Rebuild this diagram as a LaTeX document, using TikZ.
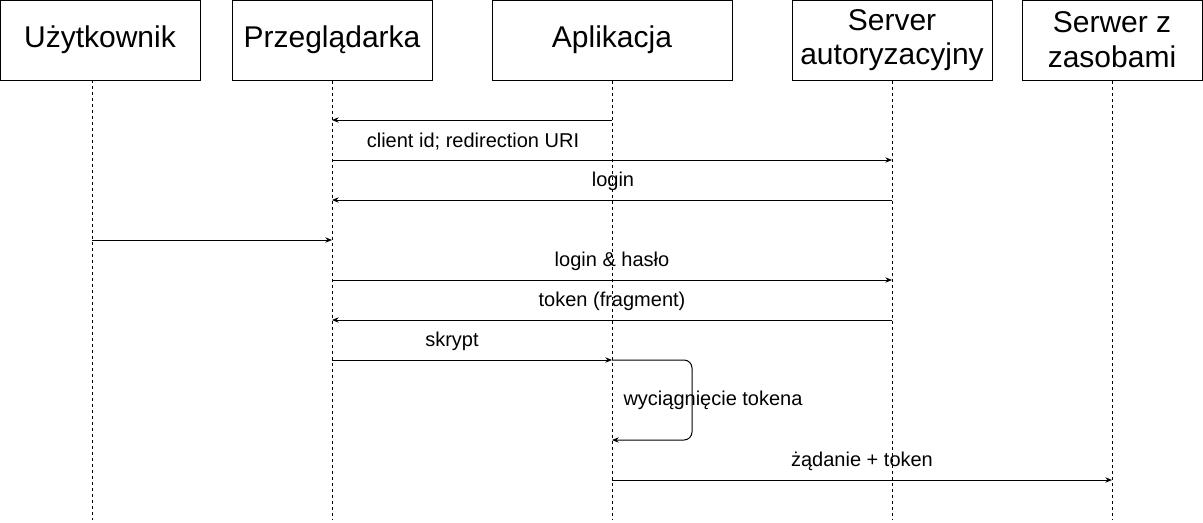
\documentclass[tikz,border=0pt]{standalone}
\usepackage{fontspec}
\setmainfont{Liberation Sans}
\usetikzlibrary{arrows.meta}

\begin{document}
\begin{tikzpicture}[x=0.75pt, y=-0.75pt,
        actor/.style={draw, line width=0.75pt, minimum height=60pt, inner sep=0pt, font=\fontsize{22.5}{26}\selectfont, align=center},
        lifeline/.style={line width=0.6pt, dash pattern=on 2.25pt off 2.25pt},
        msg/.style={line width=0.75pt, -{Stealth[length=5pt, width=4pt]}},
        lbl/.style={font=\fontsize{15}{18}\selectfont, inner sep=0pt}]
        \useasboundingbox (0,0) rectangle (1203,522);

        % Define the participants
        \node[actor, minimum width=150pt] (user) at (100,40) {Użytkownik};
        \node[actor, minimum width=150pt] (browser) at (332,40) {Przeglądarka};
        \node[actor, minimum width=180pt] (app) at (612,40) {Aplikacja};
        \node[actor, minimum width=150pt] (auth) at (892,40) {Server\\autoryzacyjny};
        \node[actor, minimum width=135pt] (res) at (1112,40) {Serwer z\\zasobami};

        % Define the lifelines
        \coordinate (userL) at (92,80);
        \coordinate (userE) at (92,520);
        \coordinate (browserE) at (332,520);
        \coordinate (appE) at (612,520);
        \coordinate (authE) at (892,520);
        \coordinate (resE) at (1112,520);
        \draw[lifeline] (userL) -- (userE);
        \draw[lifeline] (browser.south) -- (browserE);
        \draw[lifeline] (app.south) -- (appE);
        \draw[lifeline] (auth.south) -- (authE);
        \draw[lifeline] (res.south) -- (resE);

        % Define the messages
        \draw[msg] (app.south |- 0,120) -- (browser.south |- 0,120);
        \draw[msg] (browser.south |- 0,160) -- (auth.south |- 0,160);
        \draw[msg] (auth.south |- 0,200) -- (browser.south |- 0,200);
        \draw[msg] (userL |- 0,240) -- (browser.south |- 0,240);
        \draw[msg] (browser.south |- 0,280) -- (auth.south |- 0,280);
        \draw[msg] (auth.south |- 0,320) -- (browser.south |- 0,320);
        \draw[msg] (browser.south |- 0,360) -- (app.south |- 0,360);
        \draw[msg, rounded corners=6pt] (app.south |- 0,360) -| (692,400) |- (app.south |- 0,440);
        \draw[msg] (app.south |- 0,480) -- (res.south |- 0,480);

        % Annotations for the messages
        \node[lbl] (m2) at (473,141.5) {client id; redirection URI};
        \node[lbl] (m3) at (613,181.5) {login};
        \node[lbl] (m5) at (612,261.5) {login \& hasło};
        \node[lbl] (m6) at (612,301.5) {token (fragment)};
        \node[lbl] (m7) at (452,341.5) {skrypt};
        \node[lbl] (m8) at (713,400.5) {wyciągnięcie tokena};
        \node[lbl] (m9) at (862,461.5) {żądanie + token};
\end{tikzpicture}
\end{document}
